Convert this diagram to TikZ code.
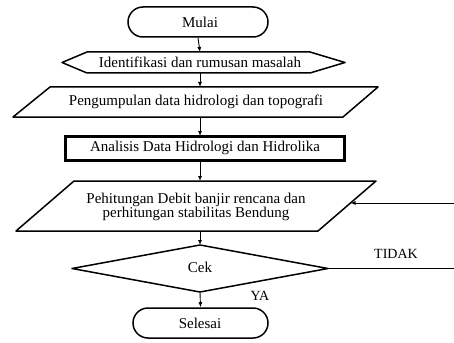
\documentclass[tikz,border=0pt]{standalone}
\usepackage{fontspec}
\setmainfont{Liberation Serif}
\usetikzlibrary{arrows.meta}
\begin{document}
\begin{tikzpicture}[x=1pt,y=-1pt,
  garis/.style={line width=1.5pt,line join=round},
  panah/.style={line width=0.9pt,-{Latex[length=5pt,width=4pt]}},
  terminal/.style={draw,line width=1.5pt,rounded corners=15pt,inner sep=0pt},
  teks/.style={font=\fontsize{15}{12.5}\selectfont,inner sep=1pt,align=center}]
\useasboundingbox (0,0) rectangle (454,342);
% mulai
\node[terminal,minimum width=140pt,minimum height=30pt] (mulai) at (198,22) {};
\node[teks] (tmulai) at (200,22) {Mulai};
% identifikasi
\draw[garis] (62,62.5) -- (87,52) -- (310,52) -- (345,62.5) -- (310,73) -- (87,73) -- cycle;
\coordinate (idatas) at (200,52);
\coordinate (idbawah) at (200,73);
\node[teks] (tid) at (200,62.5) {Identifikasi dan rumusan masalah};
% pengumpulan data
\draw[garis] (50,87) -- (378,87) -- (343,117) -- (13,117) -- cycle;
\coordinate (p1atas) at (200,87);
\coordinate (p1bawah) at (200,117);
\node[teks] (tp1) at (196,102) {Pengumpulan data hidrologi dan topografi};
% analisis
\draw[line width=3pt] (65,136) rectangle (344,160);
\coordinate (anatas) at (200,136);
\coordinate (anbawah) at (200,160);
\node[teks] (tan) at (205,148) {Analisis Data Hidrologi dan Hidrolika};
% perhitungan
\draw[garis] (74,181) -- (376,181) -- (318,231) -- (16,231) -- cycle;
\coordinate (p2atas) at (200,181);
\coordinate (p2bawah) at (200,231);
\coordinate (p2kanan) at (350.5,203);
\node[teks] (tp2) at (196,207) {Pehitungan Debit banjir rencana dan\\perhitungan stabilitas Bendung};
% cek
\draw[garis] (72,268.5) -- (200,245) -- (328,268.5) -- (200,292) -- cycle;
\coordinate (cekatas) at (200,245);
\coordinate (cekbawah) at (200,292);
\coordinate (cekkanan) at (328,268.5);
\node[teks] (tcek) at (200,267) {Cek};
% selesai
\node[terminal,minimum width=135pt,minimum height=30pt] (selesai) at (200.5,323) {};
\node[teks] (tselesai) at (200,323) {Selesai};
% sisi kanan
\coordinate (kanan1) at (454,203);
\coordinate (kanan2) at (454,268.5);
\node[teks,font=\fontsize{14}{14}\selectfont] (tidak) at (396,254) {TIDAK};
\node[teks,font=\fontsize{14}{14}\selectfont] (ya) at (260,296) {YA};
% panah
\draw[panah] (mulai.south) -- (idatas);
\draw[panah] (idbawah) -- (p1atas);
\draw[panah] (p1bawah) -- (anatas);
\draw[panah] (anbawah) -- (p2atas);
\draw[panah] (p2bawah) -- (cekatas);
\draw[panah] (cekbawah) -- (selesai.north);
\draw[line width=0.9pt] (cekkanan) -- (kanan2);
\draw[panah] (kanan1) -- (p2kanan);
\end{tikzpicture}
\end{document}
